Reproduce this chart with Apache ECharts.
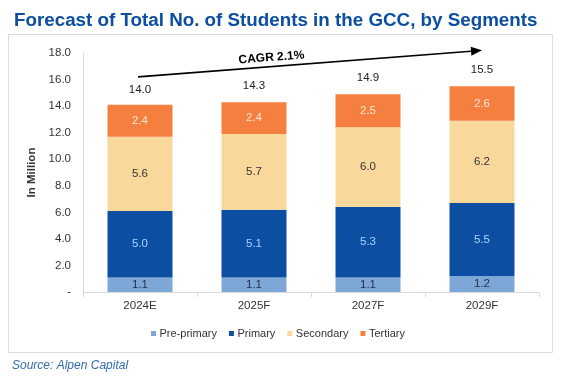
<!DOCTYPE html>
<html><head><meta charset="utf-8">
<script src="https://cdn.jsdelivr.net/npm/echarts@6/dist/echarts.min.js"></script>
<style>html,body{margin:0;padding:0;background:#fff}#c{width:561px;height:382px}</style>
</head><body><div id="c"></div>
<script>
var categories = ['2024E', '2025F', '2027F', '2029F'];
var prePrimary = [1.1, 1.1, 1.1, 1.2];
var primary = [5.0, 5.1, 5.3, 5.5];
var secondary = [5.6, 5.7, 6.0, 6.2];
var tertiary = [2.4, 2.4, 2.5, 2.6];
var totals = [14.0, 14.3, 14.9, 15.5];
var cagrLabel = 'CAGR 2.1%';
var cagrStart = 16.2, cagrEnd = 18.2;

var chart = echarts.init(document.getElementById('c'));
var font = 'Liberation Sans, Arial, sans-serif';
var fs = 11.5;
function lbl(color){ return {show:true, position:'inside', color:color, fontSize:fs, fontFamily:font, formatter:function(p){return p.value.toFixed(1);}}; }
chart.setOption({
  animation:false,
  textStyle:{fontFamily:font},
  title:{text:'Forecast of Total No. of Students in the GCC, by Segments', left:9, top:6,
    textStyle:{color:'#0B4EA2', fontSize:18.8, fontWeight:'bold', fontFamily:font}},
  legend:{data:['Pre-primary','Primary','Secondary','Tertiary'], left:146, top:323, itemWidth:5, itemHeight:5, itemGap:12,
    icon:'rect', textStyle:{fontSize:11, color:'#333', fontFamily:font, padding:[0,0,0,-1.5]}},
  grid:{left:83, right:22, top:53, bottom:90},
  xAxis:{type:'category', data:categories, axisLine:{lineStyle:{color:'#d9d9d9'}},
    axisTick:{show:true, alignWithLabel:false, lineStyle:{color:'#d9d9d9'}},
    axisLabel:{color:'#333', fontSize:fs, margin:8, fontFamily:font}},
  yAxis:{type:'value', min:0, max:18, interval:2, name:'In Million', nameLocation:'middle', nameGap:36,
    nameTextStyle:{fontWeight:'bold', fontSize:fs, color:'#333', fontFamily:font},
    axisLine:{show:true, lineStyle:{color:'#d9d9d9'}}, axisTick:{show:false}, splitLine:{show:false},
    axisLabel:{color:'#333', fontSize:fs, margin:12, fontFamily:font, formatter:function(v){return v===0?'-':v.toFixed(1);}}},
  series:[
    {name:'Pre-primary', type:'bar', stack:'s', data:prePrimary, barWidth:'57%', itemStyle:{color:'#7DA7D6'}, label:lbl('#1f2f4f')},
    {name:'Primary', type:'bar', stack:'s', data:primary, itemStyle:{color:'#0B4EA2'}, label:lbl('#A9D4FF')},
    {name:'Secondary', type:'bar', stack:'s', data:secondary, itemStyle:{color:'#F9D99B'}, label:lbl('#333')},
    {name:'Tertiary', type:'bar', stack:'s', data:tertiary, itemStyle:{color:'#F47F3E'}, label:lbl('#FDE6D6')},
    {name:'Total', type:'scatter', data:totals, symbol:'circle', symbolSize:1, itemStyle:{color:'rgba(0,0,0,0)', opacity:1}, z:5,
      label:{show:true, position:'top', distance:10, color:'#222', fontSize:fs, fontFamily:font, formatter:function(p){return p.value.toFixed(1);}}}
  ]
});
var p0 = chart.convertToPixel({xAxisIndex:0, yAxisIndex:0}, [0, cagrStart]);
var p1 = chart.convertToPixel({xAxisIndex:0, yAxisIndex:0}, [categories.length-1, cagrEnd]);
p0[0] -= 2;
var ang = Math.atan2(p1[1]-p0[1], p1[0]-p0[0]);
var ah = 11, aw = 4.5;
var bx = p1[0] - ah*Math.cos(ang), by = p1[1] - ah*Math.sin(ang);
var nx = -Math.sin(ang), ny = Math.cos(ang);
var t = 0.39;
var mx = p0[0] + (p1[0]-p0[0])*t, my = p0[1] + (p1[1]-p0[1])*t;
chart.setOption({graphic:[
  {type:'rect', shape:{x:8.5, y:34.5, width:544, height:318}, style:{fill:'none', stroke:'#dcdcdc', lineWidth:1}, z:-1},
  {type:'text', left:12, top:360, style:{text:'Source: Alpen Capital', fill:'#2E6DB4', font:'italic 12px '+font}},
  {type:'line', shape:{x1:p0[0], y1:p0[1], x2:bx, y2:by}, style:{stroke:'#000', lineWidth:1.6}, z:10},
  {type:'polygon', shape:{points:[[p1[0],p1[1]],[bx+nx*aw, by+ny*aw],[bx-nx*aw, by-ny*aw]]}, style:{fill:'#000'}, z:10},
  {type:'text', x:mx - nx*9, y:my - ny*9, rotation:-ang, style:{text:cagrLabel, fill:'#000', font:'bold 12px '+font, align:'center', verticalAlign:'middle'}, z:10}
]});
</script></body></html>
